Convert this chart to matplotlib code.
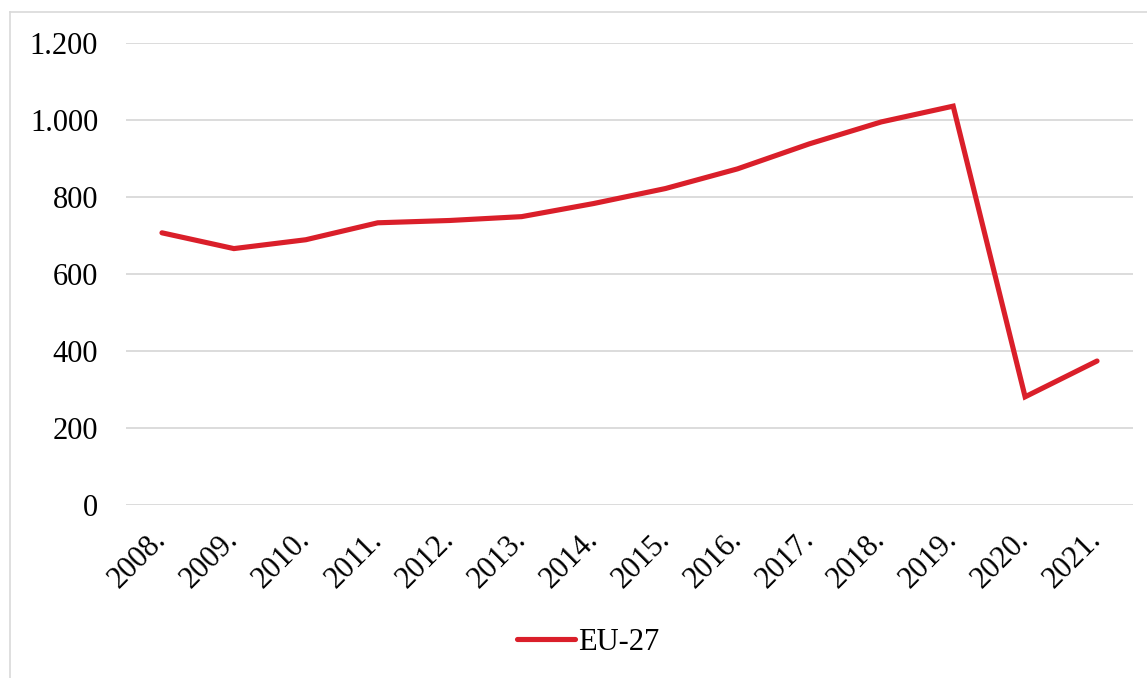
import matplotlib.pyplot as plt
from matplotlib.lines import Line2D
from matplotlib.ticker import FuncFormatter

years = ['2008.', '2009.', '2010.', '2011.', '2012.', '2013.', '2014.',
         '2015.', '2016.', '2017.', '2018.', '2019.', '2020.', '2021.']
eu27 = [707, 666, 689, 733, 739, 749, 783, 822, 873, 938, 995, 1036, 281, 374]
yticks = [0, 200, 400, 600, 800, 1000, 1200]

plt.rcParams['font.family'] = ['Liberation Serif', 'DejaVu Serif']

fig = plt.figure(figsize=(11.47, 6.78), dpi=100)
ax = fig.add_axes([126 / 1147, 1 - 505 / 678, (1133 - 126) / 1147, (505 - 43) / 678])

x = list(range(len(years)))
ax.plot(x, eu27, color='#da1f2a', linewidth=3.7, solid_capstyle='round',
        solid_joinstyle='miter', label='EU-27', zorder=3)

ax.set_xlim(-0.5, len(years) - 0.5)
ax.set_ylim(0, 1200)
ax.set_yticks(yticks)
ax.yaxis.set_major_formatter(FuncFormatter(lambda v, p: f'{int(v):,}'.replace(',', '.')))
ax.set_xticks(x)
ax.set_xticklabels(years, rotation=45, ha='right', va='center', rotation_mode='anchor')
ax.tick_params(axis='both', length=0, labelsize=22)
ax.tick_params(axis='y', pad=20)
ax.tick_params(axis='x', pad=22)
ax.grid(axis='y', color='#d9d9d9', linewidth=1.3)
ax.set_axisbelow(True)
for s in ax.spines.values():
    s.set_visible(False)

ax.legend(loc='center', bbox_to_anchor=((588 - 126) / 1007, (505 - 642) / 462), frameon=False,
          fontsize=22, handlelength=1.9, handletextpad=0.1)

# outer frame (only top and left visible in the crop)
fig.add_artist(Line2D([10 / 1147, 1], [1 - 12 / 678, 1 - 12 / 678], color='#d9d9d9', linewidth=1.2))
fig.add_artist(Line2D([10 / 1147, 10 / 1147], [0, 1 - 12 / 678], color='#d9d9d9', linewidth=1.2))

fig.savefig('out.png', dpi=100)
